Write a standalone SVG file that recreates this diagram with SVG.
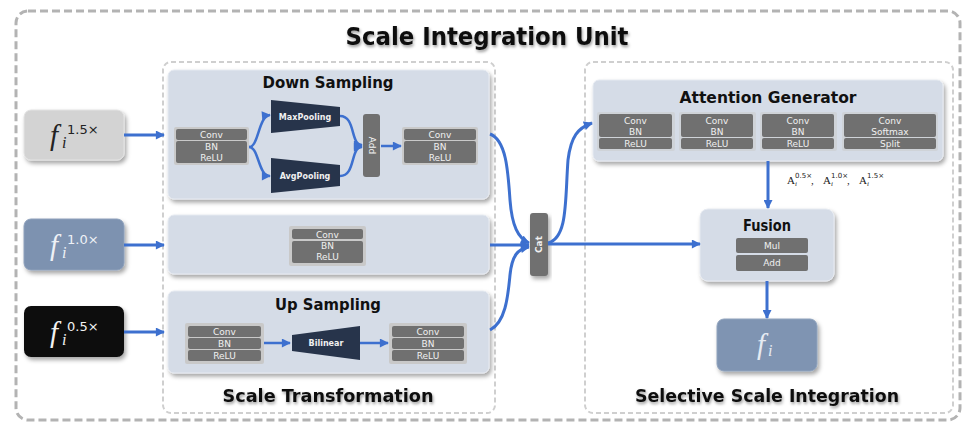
<svg xmlns="http://www.w3.org/2000/svg" width="975" height="443" viewBox="0 0 975 443">
<defs>
<filter id="sh" x="-10%" y="-10%" width="130%" height="140%"><feDropShadow dx="2" dy="3" stdDeviation="2" flood-color="#000" flood-opacity="0.35"/></filter>
<filter id="tsh" x="-10%" y="-30%" width="120%" height="170%"><feDropShadow dx="1" dy="2" stdDeviation="1.8" flood-color="#000" flood-opacity="0.4"/></filter>
<marker id="ah" viewBox="0 0 10 10" refX="9" refY="5" markerWidth="10" markerHeight="9" markerUnits="userSpaceOnUse" orient="auto"><path d="M0,0 L10,5 L0,10 z" fill="#3d70cf"/></marker>
</defs>
<style>
.outer{fill:none;stroke:#b3b3b3;stroke-width:3;stroke-dasharray:8 4}
.inner{fill:none;stroke:#cfcfcf;stroke-width:2;stroke-dasharray:5 3}
.panel{fill:#d5dce7;stroke:#e6eaf1;stroke-width:1;filter:url(#sh)}
.cont{fill:#c9c9c9}
.bar{fill:#707070}
.trap{fill:#27344b}
.bt{font-family:"DejaVu Sans",sans-serif;font-size:9px;fill:#f0f0f0;text-anchor:middle}
.tt{font-family:"DejaVu Sans",sans-serif;font-size:8px;font-weight:bold;fill:#f0f0f0;text-anchor:middle}
.h1{font-family:"DejaVu Sans",sans-serif;font-weight:bold;fill:#111;text-anchor:middle;filter:url(#tsh)}
.conn{fill:none;stroke:#3d70cf;stroke-width:3;marker-end:url(#ah)}
.conn2{fill:none;stroke:#3d70cf;stroke-width:2.5;marker-end:url(#ah)}
.fi{font-family:"Liberation Serif",serif;font-style:italic}
.sup{font-family:"DejaVu Sans",sans-serif}
</style>

<rect class="outer" x="16" y="11" width="944" height="409" rx="12"/>
<text class="h1" x="487" y="45" font-size="24" textLength="283" lengthAdjust="spacingAndGlyphs">Scale Integration Unit</text>

<g id="scale-transformation">
<rect class="inner" x="163" y="62" width="332" height="351" rx="8"/>
<text class="h1" x="328" y="402" font-size="18" textLength="211" lengthAdjust="spacingAndGlyphs">Scale Transformation</text>
</g>
<g id="selective-scale-integration">
<rect class="inner" x="585" y="62" width="368" height="351" rx="8"/>
<text class="h1" x="767" y="402" font-size="18" textLength="264" lengthAdjust="spacingAndGlyphs">Selective Scale Integration</text>
</g>

<g id="in15">
<rect x="24" y="110" width="100" height="50" rx="7" fill="#d3d3d3" stroke="#e3e3e3" filter="url(#sh)"/>
<text class="fi" x="50" y="145" font-size="29" fill="#222">f</text>
<text class="fi" x="62" y="148" font-size="16" fill="#222">i</text>
<text class="sup" x="67" y="134" font-size="13" fill="#222">1.5×</text>
</g>
<g id="in10">
<rect x="24" y="219" width="100" height="51" rx="7" fill="#7d92b0" stroke="#8ea0bb" filter="url(#sh)"/>
<text class="fi" x="50" y="255" font-size="29" fill="#eef1f6">f</text>
<text class="fi" x="62" y="258" font-size="16" fill="#eef1f6">i</text>
<text class="sup" x="67" y="244" font-size="13" fill="#eef1f6">1.0×</text>
</g>
<g id="in05">
<rect x="24" y="306" width="100" height="51" rx="7" fill="#0b0b0b" filter="url(#sh)"/>
<text class="fi" x="50" y="342" font-size="29" fill="#f2f2f2">f</text>
<text class="fi" x="62" y="345" font-size="16" fill="#f2f2f2">i</text>
<text class="sup" x="67" y="331" font-size="13" fill="#f2f2f2">0.5×</text>
</g>

<g id="down-sampling">
<rect class="panel" x="168" y="70" width="321" height="129" rx="6"/>
<text class="h1" x="328" y="88" font-size="16" textLength="131" lengthAdjust="spacingAndGlyphs" style="filter:none">Down Sampling</text>
<rect class="cont" x="174" y="127" width="75" height="38" rx="2"/>
<rect class="bar" x="176" y="129" width="71" height="11" rx="2"/>
<rect class="bar" x="176" y="141" width="71" height="22" rx="2"/>
<text class="bt" x="211.5" y="138">Conv</text>
<text class="bt" x="211.5" y="150">BN</text>
<text class="bt" x="211.5" y="161">ReLU</text>
<polygon class="trap" points="271,100 340,107 340,126 271,133"/>
<text class="tt" x="305" y="120">MaxPooling</text>
<polygon class="trap" points="271,158 340,165 340,186 271,193"/>
<text class="tt" x="305" y="179">AvgPooling</text>
<rect class="bar" x="363" y="114" width="17" height="63" rx="3"/>
<text class="tt" transform="translate(371.5,145.5) rotate(90)" y="3" style="font-weight:normal;font-size:9px">Add</text>
<rect class="cont" x="402" y="127" width="76" height="38" rx="2"/>
<rect class="bar" x="404" y="129" width="72" height="11" rx="2"/>
<rect class="bar" x="404" y="141" width="72" height="22" rx="2"/>
<text class="bt" x="440" y="138">Conv</text>
<text class="bt" x="440" y="150">BN</text>
<text class="bt" x="440" y="161">ReLU</text>
</g>

<g id="identity">
<rect class="panel" x="168" y="215" width="321" height="59" rx="6"/>
<rect class="cont" x="289" y="226" width="77" height="40" rx="2"/>
<rect class="bar" x="292" y="229" width="71" height="10" rx="2"/>
<rect class="bar" x="292" y="241" width="71" height="22" rx="2"/>
<text class="bt" x="327.5" y="237.5">Conv</text>
<text class="bt" x="327.5" y="249">BN</text>
<text class="bt" x="327.5" y="260">ReLU</text>
</g>

<g id="up-sampling">
<rect class="panel" x="168" y="291" width="321" height="82" rx="6"/>
<text class="h1" x="328" y="310" font-size="16" textLength="106" lengthAdjust="spacingAndGlyphs" style="filter:none">Up Sampling</text>
<rect class="cont" x="185" y="323" width="79" height="41" rx="2"/>
<rect class="bar" x="188" y="326" width="73" height="11" rx="2"/>
<rect class="bar" x="188" y="338" width="73" height="11" rx="2"/>
<rect class="bar" x="188" y="350" width="73" height="11" rx="2"/>
<text class="bt" x="224.5" y="335">Conv</text>
<text class="bt" x="224.5" y="347">BN</text>
<text class="bt" x="224.5" y="359">ReLU</text>
<polygon class="trap" points="292,335 360,326 360,360 292,351"/>
<text class="tt" x="326" y="346">Bilinear</text>
<rect class="cont" x="389" y="323" width="78" height="41" rx="2"/>
<rect class="bar" x="392" y="326" width="72" height="11" rx="2"/>
<rect class="bar" x="392" y="338" width="72" height="11" rx="2"/>
<rect class="bar" x="392" y="350" width="72" height="11" rx="2"/>
<text class="bt" x="428" y="335">Conv</text>
<text class="bt" x="428" y="347">BN</text>
<text class="bt" x="428" y="359">ReLU</text>
</g>

<g id="cat">
<rect class="bar" x="530" y="213" width="18" height="63" rx="3" filter="url(#sh)"/>
<text class="tt" transform="translate(539,244.5) rotate(-90)" y="3" style="font-size:9px">Cat</text>
</g>

<g id="attention-generator">
<rect class="panel" x="593" y="80" width="350" height="81" rx="6"/>
<text class="h1" x="768" y="103" font-size="16" textLength="177" lengthAdjust="spacingAndGlyphs" style="filter:none">Attention Generator</text>
<rect class="cont" x="597" y="112" width="78" height="39" rx="2" opacity="0.5"/>
<rect class="bar" x="599" y="114" width="73" height="23" rx="2"/>
<rect class="bar" x="599" y="138" width="73" height="11" rx="2"/>
<text class="bt" x="635.5" y="123.5">Conv</text>
<text class="bt" x="635.5" y="135">BN</text>
<text class="bt" x="635.5" y="146.5">ReLU</text>
<rect class="cont" x="679" y="112" width="77" height="39" rx="2" opacity="0.5"/>
<rect class="bar" x="681" y="114" width="72" height="23" rx="2"/>
<rect class="bar" x="681" y="138" width="72" height="11" rx="2"/>
<text class="bt" x="717" y="123.5">Conv</text>
<text class="bt" x="717" y="135">BN</text>
<text class="bt" x="717" y="146.5">ReLU</text>
<rect class="cont" x="760" y="112" width="77" height="39" rx="2" opacity="0.5"/>
<rect class="bar" x="762" y="114" width="72" height="23" rx="2"/>
<rect class="bar" x="762" y="138" width="72" height="11" rx="2"/>
<text class="bt" x="798" y="123.5">Conv</text>
<text class="bt" x="798" y="135">BN</text>
<text class="bt" x="798" y="146.5">ReLU</text>
<rect class="cont" x="842" y="112" width="96" height="39" rx="2" opacity="0.5"/>
<rect class="bar" x="844" y="114" width="92" height="23" rx="2"/>
<rect class="bar" x="844" y="138" width="92" height="11" rx="2"/>
<text class="bt" x="890" y="123.5">Conv</text>
<text class="bt" x="890" y="135">Softmax</text>
<text class="bt" x="890" y="146.5">Split</text>
</g>

<g id="attention-label" font-family="Liberation Serif,serif" fill="#222">
<text x="787" y="184" font-size="11">A</text>
<text class="sup" x="795" y="178" font-size="7">0.5×</text>
<text class="fi" x="795" y="186" font-size="7">i</text>
<text x="811" y="184" font-size="11">,</text>
<text x="823" y="184" font-size="11">A</text>
<text class="sup" x="831" y="178" font-size="7">1.0×</text>
<text class="fi" x="831" y="186" font-size="7">i</text>
<text x="847" y="184" font-size="11">,</text>
<text x="859" y="184" font-size="11">A</text>
<text class="sup" x="867" y="178" font-size="7">1.5×</text>
<text class="fi" x="867" y="186" font-size="7">i</text>
</g>

<g id="fusion">
<rect class="panel" x="700" y="209" width="134" height="72" rx="8"/>
<text class="h1" x="767" y="231" font-size="15" textLength="48" lengthAdjust="spacingAndGlyphs" style="filter:none">Fusion</text>
<rect class="bar" x="736" y="238" width="72" height="15" rx="2"/>
<rect class="bar" x="736" y="255" width="72" height="16" rx="2"/>
<text class="bt" x="772" y="249">Mul</text>
<text class="bt" x="772" y="266">Add</text>
</g>

<g id="output">
<rect x="717" y="319" width="100" height="52" rx="7" fill="#7f94b2" stroke="#90a3bd" filter="url(#sh)"/>
<text class="fi" x="757" y="354" font-size="29" fill="#e6ebf2">f</text>
<text class="fi" x="768" y="356" font-size="16" fill="#e6ebf2">i</text>
</g>

<g id="connectors">
<path class="conn" d="M124,135 L164,135"/>
<path class="conn" d="M124,245 L164,245"/>
<path class="conn" d="M124,332 L164,332"/>
<path class="conn2" d="M249,147 C259,147 258,116 270,115"/>
<path class="conn2" d="M249,147 C259,147 258,176 270,176"/>
<path class="conn2" d="M340,116 C356,116 350,145 362,145"/>
<path class="conn2" d="M340,176 C356,176 350,147 362,147"/>
<path class="conn2" d="M381,146 L401,146"/>
<path class="conn2" d="M264,343 L290,343"/>
<path class="conn2" d="M360,343 L388,343"/>
<path class="conn" d="M490,134 C506,140 508,170 510,200 C512,226 518,238 529,243"/>
<path class="conn" d="M490,245 L529,245"/>
<path class="conn" d="M490,330 C506,322 508,295 510,275 C512,255 518,249 529,247"/>
<path class="conn" d="M548,243 C568,238 565,200 568,160 C571,136 578,128 592,123"/>
<path class="conn" d="M548,244 L700,244"/>
<path class="conn" d="M768,161 L768,208"/>
<path class="conn" d="M767,281 L767,318"/>
</g>
</svg>
